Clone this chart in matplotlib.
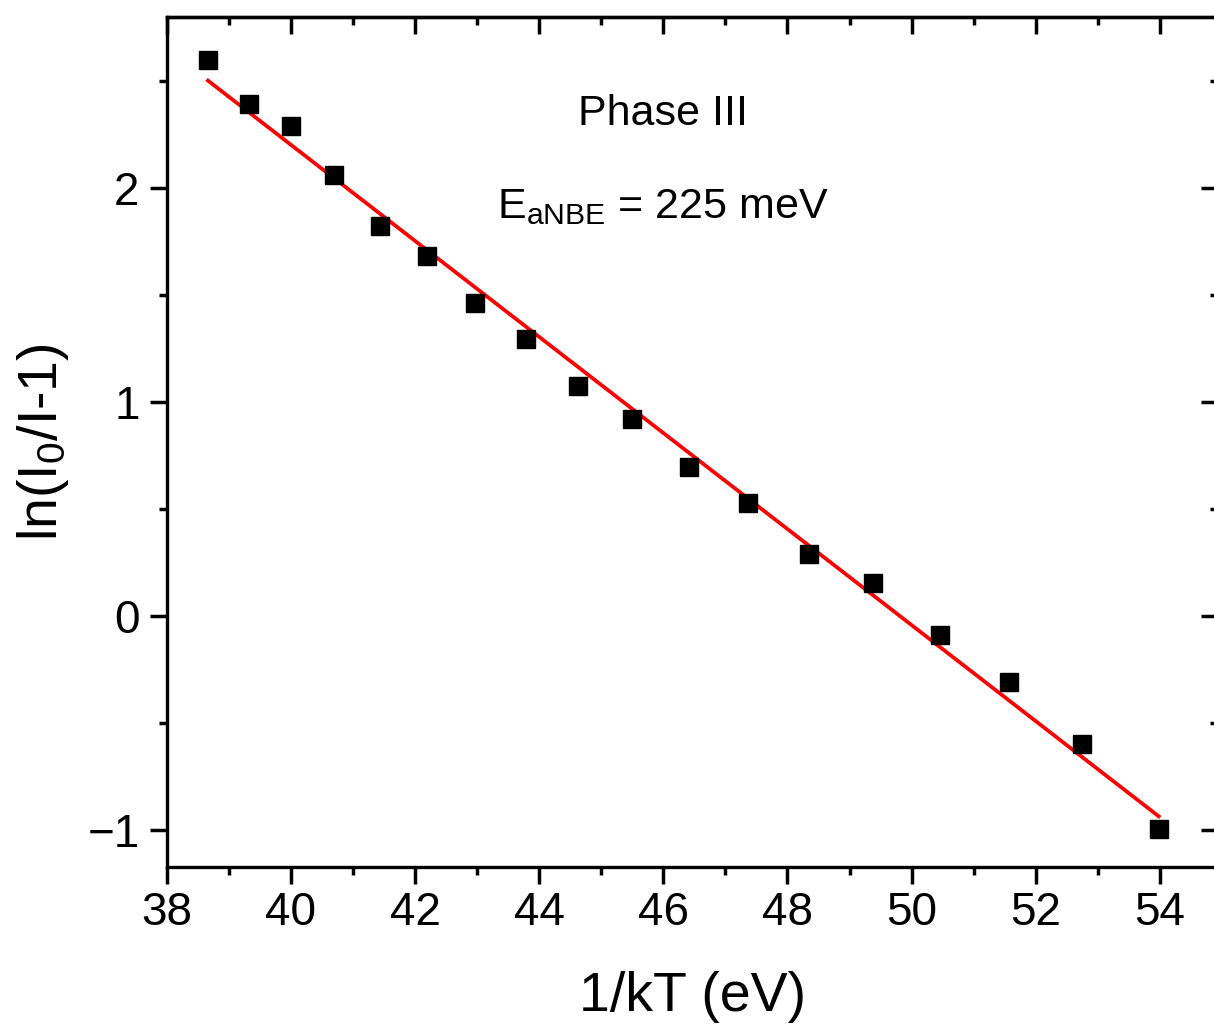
import numpy as np
import matplotlib
matplotlib.use("Agg")
import matplotlib.pyplot as plt
from matplotlib.ticker import MultipleLocator

# Data
inv_kT = [38.665, 39.326, 40.002, 40.70, 41.431, 42.188, 42.966, 43.783, 44.62,
          45.50, 46.409, 47.356, 48.346, 49.377, 50.452, 51.573, 52.749, 53.98]
ln_ratio = [2.599, 2.394, 2.293, 2.062, 1.824, 1.684, 1.462, 1.295, 1.076,
            0.921, 0.696, 0.527, 0.290, 0.153, -0.088, -0.307, -0.599, -0.995]

# Linear fit
fit_slope = -0.2246
fit_intercept = 11.188

plt.rcParams["font.family"] = ["Liberation Sans", "DejaVu Sans"]
plt.rcParams["mathtext.fontset"] = "custom"
plt.rcParams["mathtext.rm"] = "Liberation Sans"
plt.rcParams["mathtext.it"] = "Liberation Sans"

fig = plt.figure(figsize=(12.14, 10.28), dpi=100)
ax = fig.add_axes([0.1373, 0.1566, 0.866, 0.8268])

ax.plot(inv_kT, ln_ratio, "s", color="black", markersize=13.5, zorder=3)
fit_x = np.array([inv_kT[0], inv_kT[-1]])
ax.plot(fit_x, fit_intercept + fit_slope * fit_x, color="#ff0000", linewidth=2.7, zorder=2)

ax.set_xlim(38, 54.935)
ax.set_ylim(-1.173, 2.801)
ax.xaxis.set_major_locator(MultipleLocator(2))
ax.xaxis.set_minor_locator(MultipleLocator(1))
ax.yaxis.set_major_locator(MultipleLocator(1))
ax.yaxis.set_minor_locator(MultipleLocator(0.5))

for side in ax.spines.values():
    side.set_linewidth(2.4)

ax.tick_params(which="both", width=2.5, labelsize=33)
ax.tick_params(which="major", length=12.5)
ax.tick_params(which="minor", length=6)
ax.tick_params(axis="x", which="both", direction="out", pad=5)
ax.tick_params(axis="y", which="both", direction="out", pad=7)

# inward ticks on top and right
sec_x = ax.secondary_xaxis("top")
sec_x.xaxis.set_major_locator(MultipleLocator(2))
sec_x.xaxis.set_minor_locator(MultipleLocator(1))
sec_x.tick_params(which="both", direction="in", labeltop=False, width=2.5)
sec_x.tick_params(which="major", length=12.5)
sec_x.tick_params(which="minor", length=6)
sec_x.spines["top"].set_linewidth(2.4)
sec_y = ax.secondary_yaxis("right")
sec_y.yaxis.set_major_locator(MultipleLocator(1))
sec_y.yaxis.set_minor_locator(MultipleLocator(0.5))
sec_y.tick_params(which="both", direction="in", labelright=False, width=2.5)
sec_y.tick_params(which="major", length=12.5)
sec_y.tick_params(which="minor", length=6)

ax.set_xlabel("1/kT (eV)", fontsize=40, labelpad=26)
ax.set_ylabel(r"ln(I$_0$/I-1)", fontsize=40, labelpad=12)

ax.text(46.0, 2.296, "Phase III", fontsize=31, ha="center", va="baseline")
ax.text(46.0, 1.861, r"E$_{\mathrm{aNBE}}$ = 225 meV", fontsize=31, ha="center", va="baseline")

fig.savefig("out.png", dpi=100)
plt.close(fig)
